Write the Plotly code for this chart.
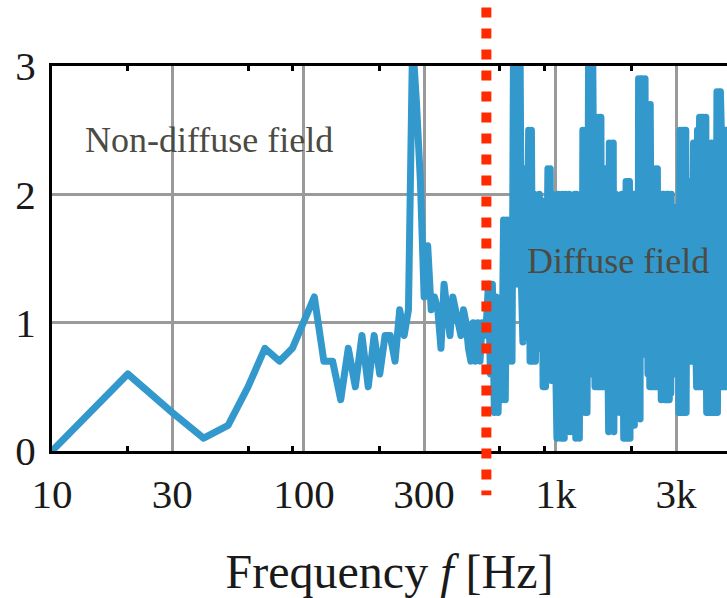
import math
import plotly.graph_objects as go

# ---------------- data ----------------
freq_step_hz = 10
# amplitude at f = 10, 20, 30, ... Hz (10 values per row = 100 Hz)
amplitude = [
    0.0, 0.6, 0.3, 0.1, 0.2, 0.5, 0.8, 0.7, 0.8, 1.0,          # 10-100
    1.2, 0.7, 0.7, 0.4, 0.8, 0.5, 0.9, 0.5, 0.9, 0.6,          # 110-200
    0.9, 0.9, 0.7, 1.1, 0.9, 1.1, 3.2, 2.7, 2.1, 1.2,          # 210-300
    1.6, 1.1, 1.2, 1.1, 0.8, 1.3, 1.1, 0.9, 1.2, 1.1,          # 310-400
    1.0, 0.9, 1.1, 1.0, 0.8, 0.7, 1.0, 0.7, 1.0, 0.7,          # 410-500
    1.0, 0.9, 1.0, 1.3, 0.6, 1.3, 0.3, 1.2, 0.3, 1.1,          # 510-600
    0.4, 1.8, 0.4, 1.8, 0.7, 1.8, 0.7, 3.4, 1.3, 3.3,          # 610-700
    1.3, 3.4, 1.3, 0.85, 2.2, 0.9, 1.3, 2.5, 0.7, 2.5,         # 710-800
    0.7, 2.0, 0.7, 1.9, 0.8, 2.0, 0.85, 1.95, 0.5, 1.9,        # 810-900
    0.5, 1.8, 2.2, 0.6, 2.2, 0.55, 2.0, 0.6, 1.9, 0.6,         # 910-1000
    0.1, 2.0, 0.5, 1.9, 0.1, 2.0, 0.8, 0.1, 2.0, 0.15,         # 1010-1100
    1.9, 0.2, 2.0, 0.15, 1.9, 0.5, 1.6, 0.2, 2.0, 0.1,         # 1110-1200
    2.0, 0.3, 1.95, 0.1, 1.4, 2.0, 0.3, 2.5, 0.9, 2.4,         # 1210-1300
    0.3, 2.5, 0.3, 1.5, 3.3, 0.6, 3.3, 1.2, 0.6, 3.2,          # 1310-1400
    0.7, 2.0, 0.5, 2.6, 0.6, 2.5, 0.5, 2.6, 1.0, 0.5,          # 1410-1500
    2.6, 0.5, 2.2, 0.6, 2.1, 0.5, 2.2, 0.8, 1.8, 0.2,          # 1510-1600
    1.5, 0.15, 2.4, 0.3, 2.4, 0.2, 2.3, 0.6, 2.4, 0.15,        # 1610-1700
    1.9, 0.4, 2.0, 0.3, 1.8, 0.5, 1.9, 0.4, 1.95, 0.3,         # 1710-1800
    1.9, 0.6, 2.0, 0.3, 1.9, 0.1, 2.0, 0.4, 0.1, 2.1,          # 1810-1900
    0.3, 2.1, 0.1, 2.0, 0.5, 2.1, 0.1, 1.8, 0.3, 2.0,          # 1910-2000
    0.25, 1.9, 0.7, 2.0, 0.2, 1.9, 0.4, 2.0, 0.25, 1.7,        # 2010-2100
    2.9, 0.3, 2.9, 0.8, 2.8, 0.25, 2.9, 1.0, 0.8, 2.9,         # 2110-2200
    0.8, 2.9, 0.9, 2.8, 0.8, 2.9, 1.1, 0.75, 2.7, 0.8,         # 2210-2300
    2.7, 0.6, 2.7, 0.9, 2.6, 0.5, 2.7, 0.6, 2.2, 0.5,          # 2310-2400
    2.2, 0.5, 2.1, 0.8, 2.2, 0.5, 1.9, 0.6, 2.2, 0.5,          # 2410-2500
    2.1, 0.6, 2.2, 0.5, 1.8, 0.7, 1.85, 0.5, 1.8, 0.5,         # 2510-2600
    2.0, 0.4, 1.9, 0.5, 2.0, 0.8, 0.45, 2.0, 0.5, 1.9,         # 2610-2700
    0.4, 2.0, 0.6, 1.9, 0.4, 2.0, 0.9, 0.4, 2.0, 0.5,          # 2710-2800
    1.9, 0.4, 2.0, 0.6, 1.95, 0.45, 2.0, 0.7, 1.9, 0.6,        # 2810-2900
    1.9, 0.7, 1.8, 0.6, 1.9, 1.0, 0.6, 1.9, 0.65, 1.85,        # 2910-3000
    0.6, 1.9, 0.7, 1.8, 0.6, 1.9, 0.8, 0.3, 2.5, 0.3,          # 3010-3100
    2.5, 0.5, 2.4, 0.3, 2.5, 0.9, 0.3, 2.5, 0.4, 2.4,          # 3110-3200
    0.3, 2.5, 0.6, 2.5, 0.3, 2.3, 0.5, 2.5, 0.3, 2.4,          # 3210-3300
    0.7, 2.0, 0.8, 2.1, 0.75, 1.9, 1.0, 0.7, 2.1, 0.8,         # 3310-3400
    2.0, 0.7, 2.1, 0.9, 1.9, 0.7, 2.0, 1.2, 0.75, 2.4,         # 3410-3500
    0.7, 2.4, 0.8, 2.3, 0.7, 2.4, 1.0, 0.7, 2.4, 0.75,         # 3510-3600
    2.3, 0.5, 2.4, 0.8, 2.5, 0.5, 2.6, 1.1, 0.5, 2.6,          # 3610-3700
    0.5, 2.6, 0.7, 2.5, 0.5, 2.6, 0.9, 0.5, 2.6, 0.6,          # 3710-3800
    2.5, 0.5, 2.6, 1.0, 0.5, 2.6, 0.6, 2.4, 0.5, 2.6,          # 3810-3900
    0.6, 2.5, 0.5, 2.6, 0.8, 2.0, 0.3, 2.1, 0.5, 1.9,          # 3910-4000
    0.3, 2.1, 0.6, 1.9, 0.3, 2.1, 0.9, 0.3, 2.0, 0.4,          # 4010-4100
    2.1, 0.3, 2.4, 0.5, 2.4, 0.3, 2.3, 1.0, 0.3, 2.4,          # 4110-4200
    0.4, 2.4, 0.3, 2.3, 0.7, 2.4, 0.3, 2.4, 0.5, 2.2,          # 4210-4300
    0.3, 2.8, 0.5, 2.7, 0.3, 2.8, 1.0, 0.3, 2.8, 0.4,          # 4310-4400
    2.7, 0.5, 2.8, 0.6, 2.8, 0.5, 2.6, 1.1, 0.5, 2.8,          # 4410-4500
    0.5, 2.7, 0.6, 2.5, 0.5, 2.5, 0.9, 0.5, 2.5, 0.6,          # 4510-4600
    2.5, 0.5, 2.4, 0.7, 2.5, 0.5, 2.5, 0.8, 0.5, 2.5,          # 4610-4700
    0.5, 2.5, 0.6, 2.4, 0.5, 2.5, 0.7, 2.4, 0.5, 2.5,          # 4710-4800
]
freq_hz = [freq_step_hz * (i + 1) for i in range(len(amplitude))]

x_tick_values = [10, 30, 100, 300, 1000, 3000]
x_tick_labels = ["10", "30", "100", "300", "1k", "3k"]
x_minor_ticks = [20, 60, 90, 200, 600, 900, 2000]
y_tick_values = [0, 1, 2, 3]
y_tick_labels = ["0", "1", "2", "3"]
boundary_hz = 530
x_max_hz = 4780

region_labels = ["Non-diffuse field", "Diffuse field"]
region_label_hz = [13.3, 1760]
region_label_y = [2.42, 1.48]

# ---------------- figure ----------------
SERIF = "Liberation Serif"
BLUE = "#3399cc"
RED = "#ff2a00"
GRID = "#9a9a9a"

fig = go.Figure()
fig.add_trace(go.Scatter(
    x=freq_hz, y=amplitude, mode="lines",
    line=dict(color=BLUE, width=7),
    showlegend=False, hoverinfo="skip",
))

# boundary between non-diffuse and diffuse field (data value on the log axis)
fig.add_shape(
    type="line", xref="x", yref="paper",
    x0=boundary_hz, x1=boundary_hz, y0=1.152, y1=-0.115,
    line=dict(color=RED, width=10, dash="10px,11px"), layer="above",
)

fig.add_annotation(
    x=math.log10(region_label_hz[0]), y=region_label_y[0], xref="x", yref="y",
    text=region_labels[0], showarrow=False, xanchor="left", yanchor="middle",
    font=dict(family=SERIF, size=36, color="#4b4b44"),
)
fig.add_annotation(
    x=math.log10(region_label_hz[1]), y=region_label_y[1], xref="x", yref="y",
    text=region_labels[1], showarrow=False, xanchor="center", yanchor="middle",
    font=dict(family=SERIF, size=36, color="#4b4b44"),
)

fig.update_layout(
    width=727, height=598,
    margin=dict(l=52, r=0, t=66, b=147),
    paper_bgcolor="white", plot_bgcolor="white",
    font=dict(family=SERIF, color="#1a1a1a"),
    xaxis=dict(
        type="log", range=[1, math.log10(x_max_hz)],
        tickvals=x_tick_values, ticktext=x_tick_labels,
        tickfont=dict(family=SERIF, size=41, color="#1a1a1a"),
        ticks="", ticklabelstandoff=5,
        showgrid=True, gridcolor=GRID, gridwidth=2.5,
        showline=True, linecolor="black", linewidth=3, mirror="ticks",
        zeroline=False,
        minor=dict(tickvals=x_minor_ticks, ticks="inside", ticklen=5,
                   tickwidth=3, tickcolor="black", showgrid=False),
        title=dict(text="Frequency <i>f</i> [Hz]",
                   font=dict(family=SERIF, size=48, color="#1a1a1a"),
                   standoff=45),
    ),
    yaxis=dict(
        range=[0, 3], tickvals=y_tick_values, ticktext=y_tick_labels,
        tickfont=dict(family=SERIF, size=41, color="#1a1a1a"),
        ticks="", ticklabelstandoff=5,
        showgrid=True, gridcolor=GRID, gridwidth=2.5,
        showline=True, linecolor="black", linewidth=3,
        zeroline=False,
    ),
)

fig.write_html(
    "out.html",
    config={"displayModeBar": False},
    post_script=(
        "document.body.style.margin='0';"
        "document.querySelectorAll('.scatterlayer .js-line').forEach(function(e){"
        "e.style.strokeLinejoin='round';e.style.strokeLinecap='round';});"
    ),
)
